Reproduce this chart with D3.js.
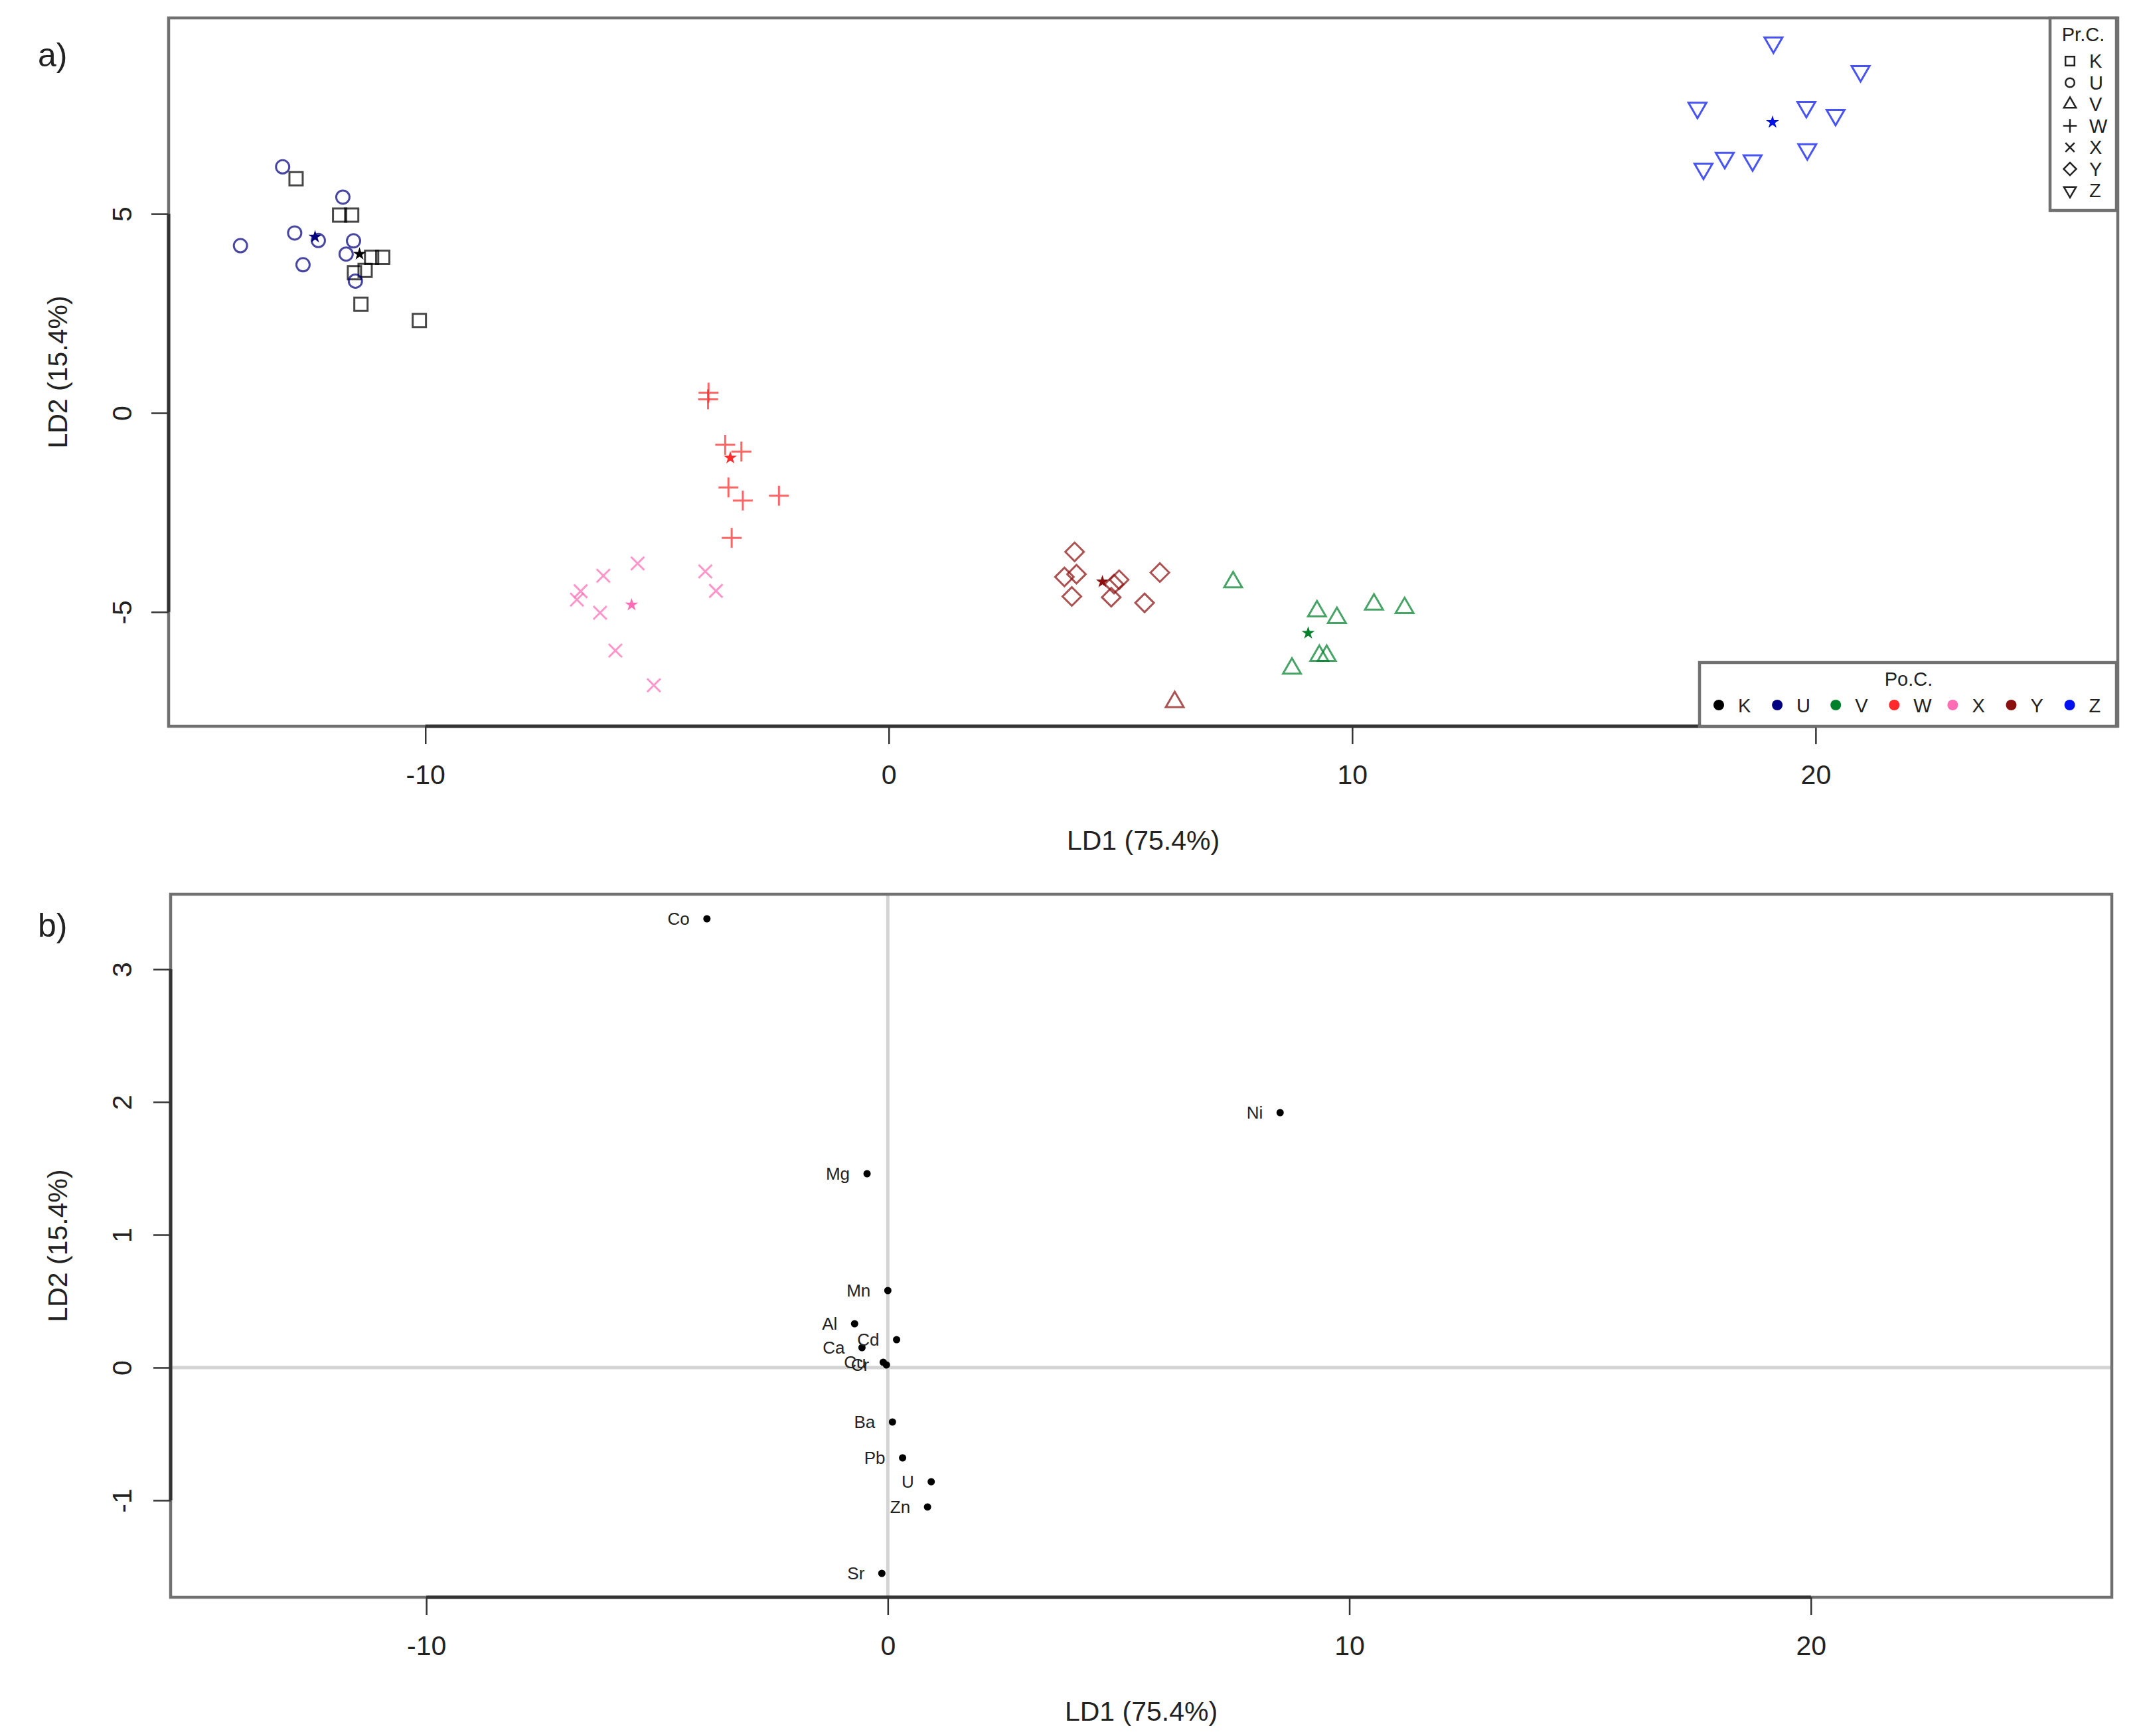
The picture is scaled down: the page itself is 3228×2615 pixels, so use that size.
<!DOCTYPE html>
<html><head><meta charset="utf-8">
<script src="https://cdn.jsdelivr.net/npm/d3@7"></script>
<style>body{margin:0;background:#fff} svg{display:block} text{font-family:"Liberation Sans",Arial,Helvetica,sans-serif;fill:#222}</style>
</head><body><svg id="c" width="3228" height="2615"></svg>
<script>
// ---------- DATA ----------
const classes = ["K","U","V","W","X","Y","Z"];
// samples of panel a: prior class (shape), posterior class (colour), LD1, LD2
const sampleClass = ["K","K","K","K","K","K","K","K","K",
  "U","U","U","U","U","U","U","U","U",
  "V","V","V","V","V","V","V","V","V",
  "W","W","W","W","W","W","W","W",
  "X","X","X","X","X","X","X","X","X",
  "Y","Y","Y","Y","Y","Y","Y","Y","Y",
  "Z","Z","Z","Z","Z","Z","Z","Z","Z"];
const samplePred = ["K","K","K","K","K","K","K","K","K",
  "U","U","U","U","U","U","U","U","U",
  "V","V","V","V","V","V","V","V","Y",
  "W","W","W","W","W","W","W","W",
  "X","X","X","X","X","X","X","X","X",
  "Y","Y","Y","Y","Y","Y","Y","Y","Y",
  "Z","Z","Z","Z","Z","Z","Z","Z","Z"];
const sampleLD1 = [-12.79,-11.85,-11.59,-11.16,-10.92,-11.30,-11.53,-11.39,-10.13,
  -13.08,-11.78,-12.82,-12.31,-13.99,-11.55,-11.71,-12.64,-11.51,
  7.43,9.24,9.67,10.47,11.13,9.29,9.45,8.70,6.17,
  -3.89,-3.90,-3.53,-3.18,-3.46,-3.15,-2.37,-3.39,
  -5.42,-6.16,-6.65,-6.73,-6.23,-5.90,-5.07,-3.96,-3.73,
  4.01,3.79,4.05,3.95,4.97,4.86,4.80,5.85,5.52,
  19.09,20.97,17.45,19.80,20.43,19.82,18.04,18.64,17.58];
const sampleLD2 = [5.88,4.97,4.97,3.91,3.91,3.58,3.52,2.73,2.32,
  6.18,5.42,4.52,4.33,4.20,4.32,3.99,3.72,3.31,
  -4.25,-4.98,-5.15,-4.81,-4.90,-6.10,-6.10,-6.42,-7.26,
  0.51,0.34,-0.80,-0.97,-1.87,-2.20,-2.08,-3.14,
  -3.78,-4.09,-4.48,-4.69,-5.02,-5.97,-6.84,-3.98,-4.47,
  -3.49,-4.12,-4.05,-4.61,-4.19,-4.30,-4.63,-4.01,-4.77,
  9.30,8.58,7.66,7.68,7.48,6.62,6.40,6.34,6.13];
// group centroids (stars)
const centroidLD1 = [-11.42,-12.38,9.05,-3.42,-5.55,4.61,19.07];
const centroidLD2 = [3.99,4.42,-5.53,-1.13,-4.82,-4.24,7.30];
// panel b: variable coefficients
const elements = ["Co","Ni","Mg","Mn","Al","Cd","Ca","Cu","Cr","Ba","Pb","U","Zn","Sr"];
const coefLD1 = [-3.92,8.50,-0.45,0.00,-0.72,0.19,-0.56,-0.10,-0.03,0.10,0.32,0.94,0.86,-0.13];
const coefLD2 = [3.38,1.92,1.46,0.58,0.33,0.21,0.15,0.04,0.02,-0.41,-0.68,-0.86,-1.05,-1.55];
const xTicks = [-10,0,10,20];
const yTicksA = [-5,0,5];
const yTicksB = [-1,0,1,2,3];
const xLabel = "LD1 (75.4%)", yLabel = "LD2 (15.4%)";

// ---------- STYLE ----------
const colors = {K:"#000000",U:"#000080",V:"#00802b",W:"#ff2a2a",X:"#ff6eb4",Y:"#8b1010",Z:"#0010ee"};
const shapes = {K:"square",U:"circle",V:"triUp",W:"plus",X:"cross",Y:"diamond",Z:"triDown"};
const FS = 41;
const fmt = d => String(d);

function shapePath(shape, k){
  const p = d3.path();
  if(shape==="square"){ const h=10*k; p.rect(-h,-h,2*h,2*h); }
  else if(shape==="circle"){ const r=10*k; p.moveTo(r,0); p.arc(0,0,r,0,2*Math.PI); p.closePath(); }
  else if(shape==="triUp"){ const r=15.5*k, w=13.5*k; p.moveTo(0,-r); p.lineTo(w,r/2); p.lineTo(-w,r/2); p.closePath(); }
  else if(shape==="triDown"){ const r=15.5*k, w=13.5*k; p.moveTo(0,r); p.lineTo(w,-r/2); p.lineTo(-w,-r/2); p.closePath(); }
  else if(shape==="plus"){ const a=15*k; p.moveTo(-a,0); p.lineTo(a,0); p.moveTo(0,-a); p.lineTo(0,a); }
  else if(shape==="cross"){ const a=10*k; p.moveTo(-a,-a); p.lineTo(a,a); p.moveTo(-a,a); p.lineTo(a,-a); }
  else if(shape==="diamond"){ const a=14*k; p.moveTo(0,-a); p.lineTo(a,0); p.lineTo(0,a); p.lineTo(-a,0); p.closePath(); }
  return p.toString();
}

const svg = d3.select("#c");
svg.append("rect").attr("width",3228).attr("height",2615).attr("fill","#fff");

function frame(x, y, yTicks, g){
  const [x0,x1] = x.range(), [y0,y1] = y.range();
  g.append("rect").attr("x",x0).attr("y",y1).attr("width",x1-x0).attr("height",y0-y1)
    .attr("fill","none").attr("stroke","#707070").attr("stroke-width",4.5);
  const ax = g.append("g").attr("transform",`translate(0,${y0})`)
    .call(d3.axisBottom(x).tickValues(xTicks).tickSize(27).tickPadding(31).tickFormat(fmt));
  ax.select(".domain").remove();
  ax.selectAll(".tick line").attr("stroke","#333").attr("stroke-width",2.5);
  ax.selectAll(".tick text").attr("font-size",FS).attr("fill","#222").style("font-family","Liberation Sans, Arial, sans-serif");
  g.append("line").attr("x1",x(xTicks[0])).attr("x2",x(xTicks[xTicks.length-1])).attr("y1",y0).attr("y2",y0)
    .attr("stroke","#333").attr("stroke-width",5);
  const ay = g.append("g").attr("transform",`translate(${x0},0)`)
    .call(d3.axisLeft(y).tickValues(yTicks).tickSize(26).tickFormat(fmt));
  ay.select(".domain").remove();
  ay.selectAll(".tick line").attr("stroke","#333").attr("stroke-width",2.5);
  ay.selectAll(".tick text").attr("font-size",FS).attr("fill","#222").style("font-family","Liberation Sans, Arial, sans-serif")
    .attr("x",0).attr("y",0).attr("dy",0).attr("text-anchor","middle")
    .attr("transform",`translate(${198-x0},0) rotate(-90)`);
  g.append("line").attr("y1",y(yTicks[0])).attr("y2",y(yTicks[yTicks.length-1])).attr("x1",x0).attr("x2",x0)
    .attr("stroke","#333").attr("stroke-width",5);
  g.append("text").attr("x",(x0+x1)/2).attr("y",y0+186).attr("text-anchor","middle")
    .attr("font-size",FS).text(xLabel);
  g.append("text").attr("transform",`translate(101,${(y0+y1)/2}) rotate(-90)`).attr("text-anchor","middle")
    .attr("font-size",FS).text(yLabel);
}

// ---------- PANEL A ----------
const xA = d3.scaleLinear().domain([-15.54,26.52]).range([254,3190]);
const yA = d3.scaleLinear().domain([-7.87,9.92]).range([1094,27]);
const gA = svg.append("g");
frame(xA, yA, yTicksA, gA);
svg.append("text").attr("x",57).attr("y",100).attr("font-size",50).text("a)");

const samples = sampleLD1.map((v,i)=>({x:v,y:sampleLD2[i],c:sampleClass[i],p:samplePred[i]}));
gA.append("g").selectAll("path").data(samples).join("path")
  .attr("transform",d=>`translate(${xA(d.x)},${yA(d.y)})`)
  .attr("d",d=>shapePath(shapes[d.c],1))
  .attr("fill","none").attr("stroke",d=>colors[d.p]).attr("stroke-width",3).attr("stroke-opacity",0.72);

const star = d3.symbol().type(d3.symbolStar).size(120);
gA.append("g").selectAll("path").data(classes).join("path")
  .attr("transform",(d,i)=>`translate(${xA(centroidLD1[i])},${yA(centroidLD2[i])})`)
  .attr("d",star).attr("fill",d=>colors[d]);

// legend Pr.C.
const lg1 = gA.append("g");
lg1.append("rect").attr("x",3088).attr("y",27).attr("width",100).attr("height",290)
  .attr("fill","#fff").attr("stroke","#707070").attr("stroke-width",4.5);
lg1.append("text").attr("x",3138).attr("y",62).attr("text-anchor","middle").attr("font-size",29).text("Pr.C.");
classes.forEach((c,i)=>{
  const yy = 92 + i*32.5;
  lg1.append("path").attr("transform",`translate(3118,${yy})`).attr("d",shapePath(shapes[c],0.68))
    .attr("fill","none").attr("stroke","#222").attr("stroke-width",2.5);
  lg1.append("text").attr("x",3147).attr("y",yy+10).attr("font-size",29).text(c);
});
// legend Po.C.
const lg2 = gA.append("g");
lg2.append("rect").attr("x",2560).attr("y",998).attr("width",628).attr("height",96)
  .attr("fill","#fff").attr("stroke","#707070").attr("stroke-width",4.5);
lg2.append("text").attr("x",2875).attr("y",1033).attr("text-anchor","middle").attr("font-size",29).text("Po.C.");
classes.forEach((c,i)=>{
  const xx = 2589 + i*88.1;
  lg2.append("circle").attr("cx",xx).attr("cy",1062).attr("r",8).attr("fill",colors[c]);
  lg2.append("text").attr("x",xx+29).attr("y",1073).attr("font-size",29).text(c);
});

// ---------- PANEL B ----------
const xB = d3.scaleLinear().domain([-15.54,26.52]).range([257,3181]);
const yB = d3.scaleLinear().domain([-1.73,3.565]).range([2406,1347]);
const gB = svg.append("g");
gB.append("line").attr("x1",xB(0)).attr("x2",xB(0)).attr("y1",1349).attr("y2",2404).attr("stroke","#d4d4d4").attr("stroke-width",5);
gB.append("line").attr("y1",yB(0)).attr("y2",yB(0)).attr("x1",259).attr("x2",3179).attr("stroke","#d4d4d4").attr("stroke-width",5);
frame(xB, yB, yTicksB, gB);
svg.append("text").attr("x",57).attr("y",1411).attr("font-size",50).text("b)");
const coefs = elements.map((e,i)=>({e, x:coefLD1[i], y:coefLD2[i]}));
gB.append("g").selectAll("circle").data(coefs).join("circle")
  .attr("cx",d=>xB(d.x)).attr("cy",d=>yB(d.y)).attr("r",5.5).attr("fill","#000");
gB.append("g").selectAll("text").data(coefs).join("text")
  .attr("x",d=>xB(d.x)-26).attr("y",d=>yB(d.y)+9).attr("text-anchor","end").attr("font-size",26)
  .attr("fill","#333").text(d=>d.e);
</script></body></html>
